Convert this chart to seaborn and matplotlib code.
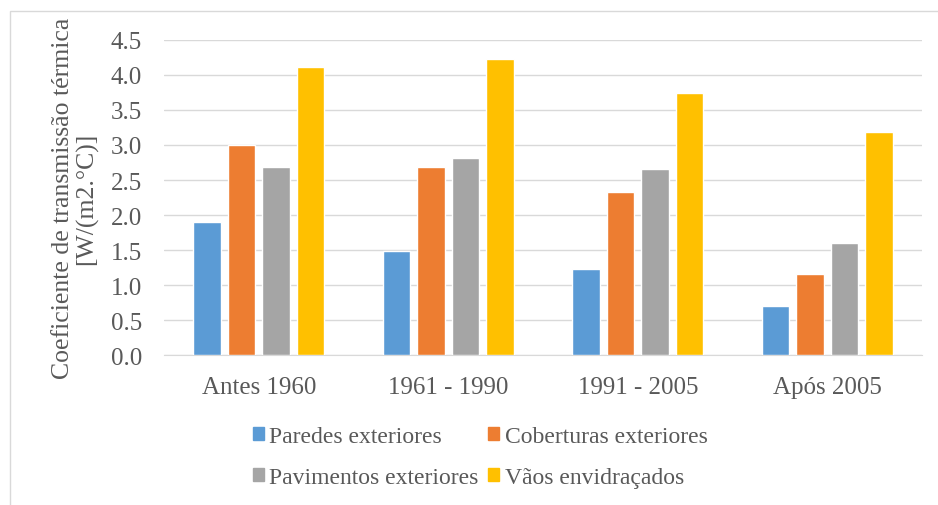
import pandas as pd
import matplotlib
matplotlib.use("Agg")
import matplotlib.pyplot as plt
import seaborn as sns
from matplotlib.patches import Rectangle, Patch

# values
periods = ["Antes 1960", "1961 - 1990", "1991 - 2005", "Após 2005"]
series = ["Paredes exteriores", "Coberturas exteriores",
          "Pavimentos exteriores", "Vãos envidraçados"]
paredes = [1.90, 1.49, 1.23, 0.70]
coberturas = [3.00, 2.69, 2.33, 1.16]
pavimentos = [2.68, 2.82, 2.66, 1.60]
vaos = [4.11, 4.23, 3.74, 3.19]
colors = ["#5B9BD5", "#ED7D31", "#A5A5A5", "#FFC000"]

rows = []
for name, vals in zip(series, [paredes, coberturas, pavimentos, vaos]):
    for p, v in zip(periods, vals):
        rows.append({"periodo": p, "tipo": name, "U": v})
df = pd.DataFrame(rows)

sns.set_style("white")
plt.rcParams["font.family"] = ["Liberation Serif", "DejaVu Serif"]
txt = "#595959"

fig = plt.figure(figsize=(9.38, 5.06), dpi=100)
ax = fig.add_axes([0.175, 0.2964, 0.808, 0.6226])

sns.barplot(data=df, x="periodo", y="U", hue="tipo", order=periods,
            hue_order=series, palette=colors, width=0.728, gap=0.2,
            saturation=1, ax=ax, legend=False, zorder=3)

ax.set_ylim(0, 4.5)
ax.set_yticks([i * 0.5 for i in range(10)])
ax.set_yticklabels([f"{i * 0.5:.1f}" for i in range(10)])
ax.grid(axis="y", color="#d9d9d9", linewidth=1, zorder=0)
ax.set_axisbelow(True)
for s in ["top", "right", "left"]:
    ax.spines[s].set_visible(False)
ax.spines["bottom"].set_color("#d9d9d9")
ax.tick_params(axis="both", length=0, labelsize=18, colors=txt)
ax.tick_params(axis="x", pad=15)
ax.tick_params(axis="y", pad=16)
ax.set_xlabel("")
ax.set_ylabel("Coeficiente de transmissão térmica\n[W/(m2.°C)]",
              fontsize=18.5, color=txt, labelpad=9, linespacing=1.05)

# legend rows: P, C / Pav, V
handles = [Patch(color=c) for c in colors]
order = [0, 2, 1, 3]
fig.legend([handles[i] for i in order], [series[i] for i in order],
           loc="center", bbox_to_anchor=(0.512, 0.095), ncol=2,
           frameon=False, fontsize=17, labelcolor=txt,
           handlelength=0.45, handleheight=0.45, handletextpad=0.25,
           columnspacing=0.4, labelspacing=0.85)

fig.patches.append(Rectangle((10 / 938, -0.05), 1.2, 1 - 12 / 506 + 0.05,
                             transform=fig.transFigure, fill=False,
                             edgecolor="#d9d9d9", linewidth=1))

fig.savefig("out.png", dpi=100)
